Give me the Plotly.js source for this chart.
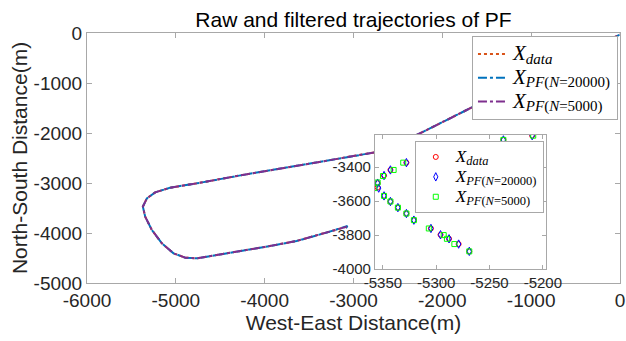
<!DOCTYPE html>
<html>
<head>
<meta charset="utf-8">
<script src="https://cdn.plot.ly/plotly-3.0.1.min.js"></script>
<style>html,body{margin:0;padding:0;background:#fff;}#chart{width:626px;height:341px;}</style>
</head>
<body>
<div id="chart"></div>
<script>
// Main trajectory (m)
var trajX = [-3074, -3300, -3640, -4000, -4313, -4538, -4763, -4894, -5026, -5157, -5270, -5345, -5371, -5326, -5232, -5063, -4763, -4312, -3641, -2759, -2650, -2500, -2289, -1501, -750, 0];
var trajY = [-3873, -3990, -4160, -4280, -4373, -4453, -4507, -4493, -4407, -4207, -3940, -3673, -3473, -3307, -3187, -3093, -3007, -2860, -2660, -2393, -2355, -2240, -2040, -1340, -690, -30];
var pf20kX = [-3085, -3068, -3300, -3640, -4000, -4313, -4538, -4763, -4894, -5026, -5157, -5270, -5345, -5371, -5326, -5232, -5063, -4763, -4312, -3641, -2759, -2650, -2500, -2289, -1501, -750, 0];
var pf20kY = [-3905, -3860, -3990, -4160, -4280, -4373, -4453, -4507, -4493, -4407, -4207, -3940, -3673, -3473, -3307, -3187, -3093, -3007, -2860, -2660, -2393, -2355, -2240, -2040, -1340, -690, -30];
var pf5kX = [-3074, -3300, -3640, -4000, -4313, -4538, -4763, -4894, -5026, -5157, -5270, -5345, -5371, -5326, -5232, -5063, -4763, -4312, -3641, -2759, -2650, -2500, -2289, -1501, -750, 0];
var pf5kY = [-3873, -3990, -4160, -4280, -4373, -4453, -4507, -4493, -4407, -4207, -3940, -3673, -3473, -3307, -3187, -3093, -3007, -2860, -2660, -2393, -2355, -2240, -2040, -1340, -690, -30];

// Inset (zoomed) samples
var zDataX = [-5355, -5355, -5349, -5343, -5328, -5315, -5349, -5343, -5336, -5328, -5321, -5305, -5296, -5288, -5279, -5269, -5237, -5210];
var zDataY = [-3494, -3520, -3449, -3416, -3373, -3338, -3569, -3602, -3638, -3673, -3712, -3761, -3798, -3822, -3853, -3896, -3239, -3214];
var z20kX = [-5355, -5354, -5349, -5343, -5328, -5315, -5349, -5343, -5336, -5328, -5321, -5305, -5296, -5288, -5279, -5269, -5237, -5210];
var z20kY = [-3494, -3523, -3449, -3416, -3373, -3338, -3569, -3602, -3638, -3673, -3712, -3761, -3798, -3822, -3853, -3896, -3239, -3214];
var z5kX = [-5355, -5358, -5350, -5340, -5331, -5315, -5349, -5343, -5336, -5328, -5321, -5307, -5293, -5290, -5283, -5269, -5237, -5209];
var z5kY = [-3490, -3523, -3452, -3416, -3373, -3338, -3569, -3602, -3638, -3673, -3712, -3761, -3800, -3822, -3853, -3896, -3239, -3214];

var mainTicksX = [-6000, -5000, -4000, -3000, -2000, -1000, 0];
var mainTicksY = [-5000, -4000, -3000, -2000, -1000, 0];
var insetTicksX = [-5350, -5300, -5250, -5200];
var insetTicksY = [-4000, -3800, -3600, -3400];
var insetRangeX = [-5357.5, -5197];
var insetRangeY = [-4000, -3210];

function lab(sub, xs, ss) {
  return '<span style="font-size:' + xs + 'px"><i>X</i></span><sub><span style="font-size:' + ss + 'px">' + sub + '</span></sub>';
}
var subData = '<i>data</i>';
var sub20k = '<i>PF</i>(<i>N</i>=20000)';
var sub5k = '<i>PF</i>(<i>N</i>=5000)';

var traces = [
  {x: trajX, y: trajY, type: 'scatter', mode: 'lines', name: lab(subData, 21, 15),
   line: {color: '#D95319', width: 2, dash: 'dot'}, xaxis: 'x', yaxis: 'y', legend: 'legend'},
  {x: pf20kX, y: pf20kY, type: 'scatter', mode: 'lines', name: lab(sub20k, 21, 15),
   line: {color: '#0072BD', width: 2, dash: 'dashdot'}, xaxis: 'x', yaxis: 'y', legend: 'legend'},
  {x: pf5kX, y: pf5kY, type: 'scatter', mode: 'lines', name: lab(sub5k, 21, 15),
   line: {color: '#7E2F8E', width: 2, dash: 'dashdot'}, xaxis: 'x', yaxis: 'y', legend: 'legend'},
  {x: zDataX, y: zDataY, type: 'scatter', mode: 'markers', name: lab(subData, 17, 12.5),
   marker: {symbol: 'circle-open', size: 5, color: '#FF0000', line: {width: 1, color: '#FF0000'}},
   xaxis: 'x2', yaxis: 'y2', legend: 'legend2'},
  {x: z20kX, y: z20kY, type: 'scatter', mode: 'markers', name: lab(sub20k, 17, 12.5),
   marker: {symbol: 'diamond-tall-open', size: 6, color: '#0000FF', line: {width: 1, color: '#0000FF'}},
   xaxis: 'x2', yaxis: 'y2', legend: 'legend2'},
  {x: z5kX, y: z5kY, type: 'scatter', mode: 'markers', name: lab(sub5k, 17, 12.5),
   marker: {symbol: 'square-open', size: 5, color: '#00FF00', line: {width: 1, color: '#00FF00'}},
   xaxis: 'x2', yaxis: 'y2', legend: 'legend2'}
];

var axCol = '#a8a8a8';
var txtCol = '#262626';
var sans = 'Liberation Sans, Arial, sans-serif';
var serif = 'Liberation Serif, Times New Roman, serif';

var layout = {
  width: 626, height: 341,
  margin: {l: 87, r: 6, t: 33, b: 58},
  paper_bgcolor: '#fff', plot_bgcolor: '#fff',
  showlegend: true,
  title: {text: 'Raw and filtered trajectories of PF', font: {family: sans, size: 21, color: '#000'},
          x: 0.5647, xanchor: 'center', y: 0.942, yanchor: 'middle'},
  xaxis: {domain: [0, 1], range: [-6000, 0], tickvals: mainTicksX, ticktext: mainTicksX.map(String),
          showline: true, linecolor: axCol, mirror: 'ticks', ticks: 'inside', ticklen: 5, tickcolor: axCol,
          showgrid: false, zeroline: false, tickfont: {family: sans, size: 19, color: txtCol},
          title: {text: 'West-East Distance(m)', font: {family: sans, size: 21, color: txtCol}, standoff: 0}},
  yaxis: {domain: [0, 1], range: [-5000, 0], tickvals: mainTicksY, ticktext: mainTicksY.map(String),
          showline: true, linecolor: axCol, mirror: 'ticks', ticks: 'inside', ticklen: 5, tickcolor: axCol,
          showgrid: false, zeroline: false, tickfont: {family: sans, size: 19, color: txtCol},
          title: {text: 'North-South Distance(m)', font: {family: sans, size: 21, color: txtCol}, standoff: 0}},
  xaxis2: {domain: [0.5403, 0.8612], range: insetRangeX, anchor: 'y2', tickvals: insetTicksX, ticktext: insetTicksX.map(String),
           showline: true, linecolor: axCol, mirror: 'ticks', ticks: 'inside', ticklen: 4, tickcolor: axCol,
           showgrid: false, zeroline: false, tickfont: {family: sans, size: 15, color: txtCol}},
  yaxis2: {domain: [0.056, 0.592], range: insetRangeY, anchor: 'x2', tickvals: insetTicksY, ticktext: insetTicksY.map(String),
           showline: true, linecolor: axCol, mirror: 'ticks', ticks: 'inside', ticklen: 4, tickcolor: axCol,
           showgrid: false, zeroline: false, tickfont: {family: sans, size: 15, color: txtCol}},
  shapes: [{type: 'rect', xref: 'x2', yref: 'y2', x0: insetRangeX[0], x1: insetRangeX[1], y0: insetRangeY[0], y1: insetRangeY[1],
            fillcolor: '#fff', line: {width: 0}, layer: 'below'}],
  legend: {x: 0.9962, xanchor: 'right', y: 0.988, yanchor: 'top', bgcolor: '#fff', bordercolor: axCol, borderwidth: 1,
           font: {family: serif, size: 16, color: '#000'}, tracegroupgap: 0, itemwidth: 30},
  legend2: {x: 0.857, xanchor: 'right', y: 0.568, yanchor: 'top', bgcolor: '#fff', bordercolor: axCol, borderwidth: 1,
            font: {family: serif, size: 13, color: '#000'}, tracegroupgap: 0, itemwidth: 30}
};

Plotly.newPlot('chart', traces, layout, {displayModeBar: false, staticPlot: true});
</script>
</body>
</html>
